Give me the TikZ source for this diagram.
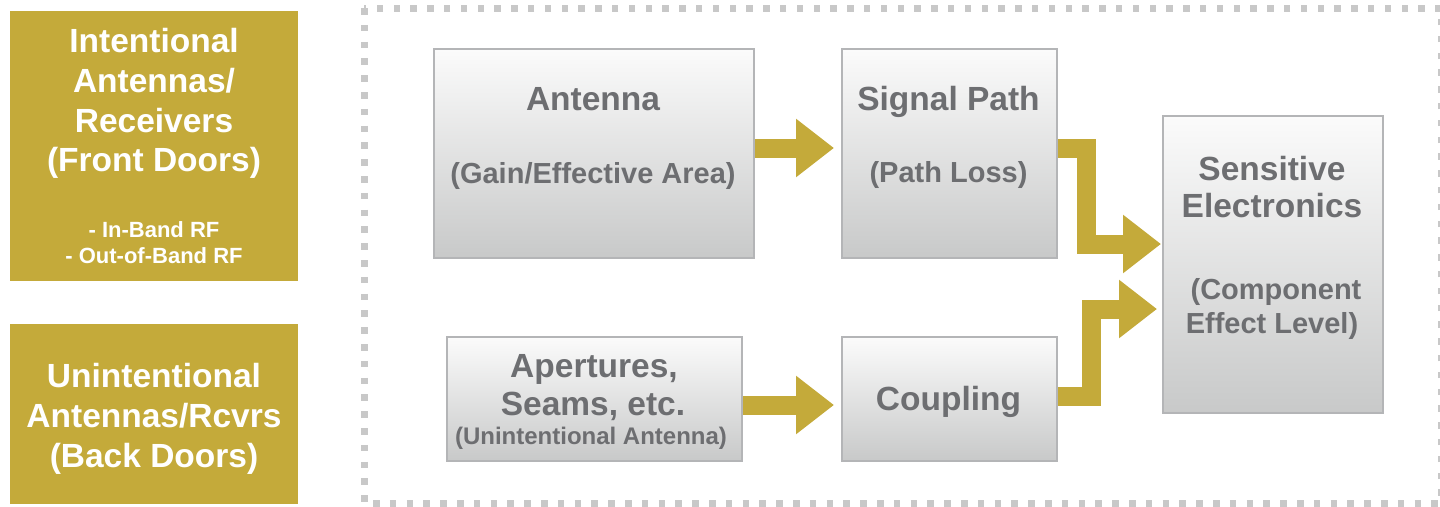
\documentclass[tikz,border=0pt]{standalone}
\usepackage{fontspec}
\setmainfont{Liberation Sans}
\usetikzlibrary{arrows.meta,calc}

\definecolor{gold}{HTML}{C4AA3A}
\definecolor{txtgray}{HTML}{6D6E71}
\definecolor{boxline}{HTML}{B4B5B7}
\definecolor{dashgray}{HTML}{C8C8C8}
\definecolor{shadetop}{HTML}{FBFBFB}
\definecolor{shademid}{HTML}{E9EAEA}
\definecolor{shadebot}{HTML}{C8C9C9}

\begin{document}
\begin{tikzpicture}[x=1pt,y=-1pt,
  goldbox/.style={fill=gold, draw=none, anchor=north west, inner sep=0pt, outer sep=0pt},
  graybox/.style={draw=boxline, line width=2pt, top color=shadetop, middle color=shademid,
                  bottom color=shadebot, anchor=north west, inner sep=0pt},
  frame/.style={draw=dashgray, line width=7pt, dash pattern=on 6.5pt off 10.3pt},
  flow/.style={draw=gold, line width=19pt, line join=miter,
               -{Triangle[length=38pt,width=56pt]}},
  big/.style={anchor=base, inner sep=0pt, font=\fontsize{33.5}{38}\selectfont\bfseries},
  mid/.style={anchor=base, inner sep=0pt, font=\fontsize{29}{34}\selectfont\bfseries},
  small/.style={anchor=base, inner sep=0pt, font=\fontsize{24}{28}\selectfont\bfseries},
  tiny/.style={anchor=base, inner sep=0pt, font=\fontsize{22}{26}\selectfont\bfseries},
  wtxt/.style={text=white},
  gtxt/.style={text=txtgray}]

\useasboundingbox (0,0) rectangle (1440,506);

% dotted enclosure
\draw[frame] (364,8) rectangle (1441,503);

% left-hand categories
\node[goldbox, minimum width=288pt, minimum height=270pt] (front) at (10,11) {};
\node[goldbox, minimum width=288pt, minimum height=180pt] (back) at (10,324) {};

% block diagram
\node[graybox, minimum width=320pt, minimum height=209pt] (ant) at (433,48) {};
\node[graybox, minimum width=215pt, minimum height=209pt] (sig) at (841,48) {};
\node[graybox, minimum width=295pt, minimum height=124pt] (ap)  at (446,336) {};
\node[graybox, minimum width=215pt, minimum height=124pt] (cou) at (841,336) {};
\node[graybox, minimum width=220pt, minimum height=297pt] (sen) at (1162,115) {};

% flow arrows
\coordinate (s1) at ($(ant.east)+(0,-5.5)$);
\draw[flow, shorten >=7pt] (s1) -- (s1 -| sig.west);

\coordinate (s2) at ($(ap.east)+(0,6)$);
\draw[flow, shorten >=7pt] (s2) -- (s2 -| cou.west);

\coordinate (s3) at ($(sig.east)+(0,-5.5)$);
\coordinate (e3) at ($(sen.west)+(0,-20.5)$);
\draw[flow, shorten >=1pt] (s3) -- ++(28,0) |- (e3);

\coordinate (s4) at ($(cou.east)+(0,-3)$);
\coordinate (e4) at ($(sen.west)+(0,44.5)$);
\draw[flow, shorten >=5pt] (s4) -- ++(33,0) |- (e4);

% texts of the front-door box
\node[big, wtxt] (f1) at (154,52)  {Intentional};
\node[big, wtxt] (f2) at (154,92)  {Antennas/};
\node[big, wtxt] (f3) at (154,132) {Receivers};
\node[big, wtxt] (f4) at (154,171) {(Front Doors)};
\node[tiny, wtxt] (f5) at (154,237) {- In-Band RF};
\node[tiny, wtxt] (f6) at (154,263) {- Out-of-Band RF};

% texts of the back-door box
\node[big, wtxt] (b1) at (154,387) {Unintentional};
\node[big, wtxt] (b2) at (154,427) {Antennas/Rcvrs};
\node[big, wtxt] (b3) at (154,467) {(Back Doors)};

% block texts
\node[big, gtxt] (ant1) at (593,110) {Antenna};
\node[mid, gtxt] (ant2) at (593,183) {(Gain/Effective Area)};

\node[big, gtxt] (sig1) at (948.5,110) {Signal Path};
\node[mid, gtxt] (sig2) at (948.5,182) {(Path Loss)};

\node[big, gtxt] (ap1) at (594,377) {Apertures,};
\node[big, gtxt] (ap2) at (593,415) {Seams, etc.};
\node[small, gtxt] (ap3) at (591,444) {(Unintentional Antenna)};

\node[big, gtxt] (cou1) at (948.5,410) {Coupling};

\node[big, gtxt] (sen1) at (1272,180) {Sensitive};
\node[big, gtxt] (sen2) at (1272,217) {Electronics};
\node[mid, gtxt] (sen3) at (1276,299) {(Component};
\node[mid, gtxt] (sen4) at (1272,333) {Effect Level)};

\end{tikzpicture}
\end{document}
